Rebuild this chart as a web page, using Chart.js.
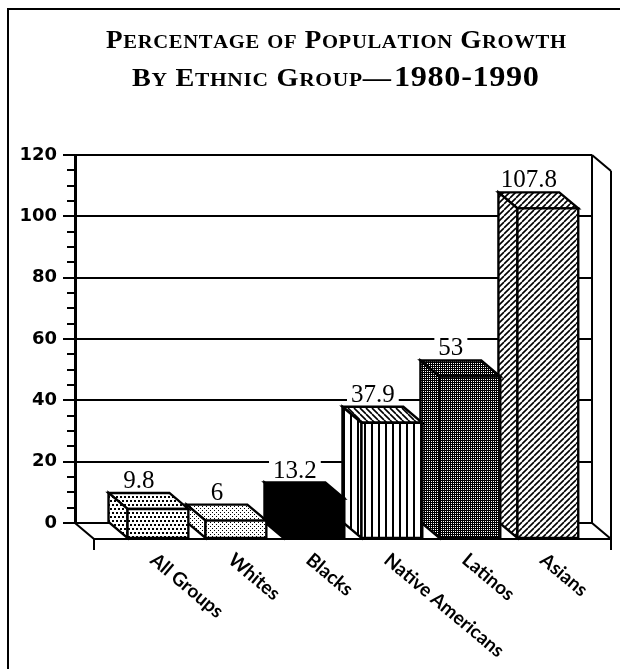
<!DOCTYPE html>
<html>
<head>
<meta charset="utf-8">
<script src="https://cdn.jsdelivr.net/npm/chart.js@4.4.0/dist/chart.umd.min.js"></script>
<style>
  html, body { margin: 0; padding: 0; background: #fff; }
  canvas { display: block; }
</style>
</head>
<body>
<canvas id="chart" width="620" height="669"></canvas>
<script>
// Values
const groups = ['All Groups', 'Whites', 'Blacks', 'Native Americans', 'Latinos', 'Asians'];
const growth = [9.8, 6, 13.2, 37.9, 53, 107.8];
const valueLabels = ['9.8', '6', '13.2', '37.9', '53', '107.8'];
const yMin = 0;
const yMax = 120;
const yStep = 20;
const yMinorStep = 5;
const titleLine1 = 'Percentage of Population Growth';
const titleLine2a = 'By Ethnic Group\u2014';
const titleLine2b = '1980-1990';

// 3D depth of the front plane
const DX = 19;
const DY = 16;

const canvas = document.getElementById('chart');
const ctx0 = canvas.getContext('2d');

// small tile patterns like the old print shading
function makePattern(w, h, bg, drawTile) {
    const c = document.createElement('canvas');
    c.width = w;
    c.height = h;
    const g = c.getContext('2d');
    g.fillStyle = bg;
    g.fillRect(0, 0, w, h);
    drawTile(g);
    return ctx0.createPattern(c, 'repeat');
}

const dotsCoarse = makePattern(8, 8, '#fff', g => {
    g.fillStyle = '#000';
    [[0, 0], [4, 0], [2, 4], [6, 4]].forEach(p => g.fillRect(p[0], p[1], 2, 2));
});
const dotsFine = makePattern(4, 4, '#fff', g => {
    g.fillStyle = '#000';
    [[0, 0], [2, 2]].forEach(p => g.fillRect(p[0], p[1], 1, 1));
});
const dotsDense = makePattern(4, 4, '#000', g => {
    g.fillStyle = '#fff';
    [[1, 1], [3, 3], [1, 3], [3, 1]].forEach(p => g.fillRect(p[0], p[1], 1, 1));
});
const vStripes = makePattern(7, 2, '#fff', g => {
    g.fillStyle = '#000';
    g.fillRect(0, 0, 2, 2);
});
function diagonal(forward) {
    return makePattern(6, 6, '#fff', g => {
        g.strokeStyle = '#000';
        g.lineWidth = 1.6;
        g.beginPath();
        for (let k = -1; k <= 1; k++) {
            if (forward) {
                g.moveTo(k * 6, 6);
                g.lineTo(k * 6 + 6, 0);
            } else {
                g.moveTo(k * 6, 0);
                g.lineTo(k * 6 + 6, 6);
            }
        }
        g.stroke();
    });
}
const diagFwd = diagonal(true);
const diagBack = diagonal(false);

const faceStyles = [
    { front: dotsCoarse, top: dotsCoarse, side: dotsCoarse },
    { front: dotsFine, top: dotsFine, side: dotsFine },
    { front: '#000', top: '#000', side: '#000' },
    { front: vStripes, top: diagBack, side: vStripes },
    { front: dotsDense, top: dotsDense, side: dotsDense },
    { front: diagFwd, top: diagFwd, side: diagFwd }
];

function poly(ctx, pts, fill) {
    ctx.beginPath();
    ctx.moveTo(pts[0][0], pts[0][1]);
    for (let i = 1; i < pts.length; i++) ctx.lineTo(pts[i][0], pts[i][1]);
    ctx.closePath();
    ctx.fillStyle = fill;
    ctx.fill();
    ctx.stroke();
}

function line(ctx, x1, y1, x2, y2) {
    ctx.beginPath();
    ctx.moveTo(x1, y1);
    ctx.lineTo(x2, y2);
    ctx.stroke();
}

// small caps by hand: lowercase letters become smaller capitals,
// the run is widened to the span it has in the print
function drawCaps(ctx, text, x, y, width, fullFont, smallFont) {
    const glyphs = [...text].map(ch => {
        const small = ch !== ch.toUpperCase();
        ctx.font = small ? smallFont : fullFont;
        const t = ch.toUpperCase();
        return { t, font: ctx.font, w: ctx.measureText(t).width };
    });
    const gap = 0.6;
    const natural = glyphs.reduce((s, g) => s + g.w, 0) + gap * (glyphs.length - 1);
    ctx.save();
    ctx.translate(x, y);
    ctx.scale(width / natural, 1);
    let cx = 0;
    glyphs.forEach(g => {
        ctx.font = g.font;
        ctx.fillText(g.t, cx, 0);
        cx += g.w + gap;
    });
    ctx.restore();
}

// page frame, floor and side wall
const framePlugin = {
    id: 'frame',
    beforeDraw(chart) {
        const ctx = chart.ctx;
        ctx.save();
        ctx.fillStyle = '#fff';
        ctx.fillRect(0, 0, chart.width, chart.height);
        ctx.strokeStyle = '#000';
        ctx.lineWidth = 2;
        ctx.beginPath();
        ctx.moveTo(8, chart.height);
        ctx.lineTo(8, 9);
        ctx.lineTo(chart.width, 9);
        ctx.stroke();
        ctx.restore();
    },
    beforeDatasetsDraw(chart) {
        const ctx = chart.ctx;
        const { left, right, top, bottom } = chart.chartArea;
        const ys = chart.scales.y;
        ctx.save();
        ctx.strokeStyle = '#000';
        ctx.lineWidth = 2;
        // minor ticks
        for (let v = yMin; v <= yMax; v += yMinorStep) {
            if (v % yStep === 0) continue;
            const y = Math.round(ys.getPixelForValue(v));
            line(ctx, left - 8, y, left, y);
        }
        // side wall
        line(ctx, right, top, right, bottom);
        line(ctx, right, top, right + DX, top + DY);
        line(ctx, right + DX, top + DY, right + DX, bottom + DY + 11);
        // floor
        line(ctx, left, bottom, left + DX, bottom + DY);
        line(ctx, left + DX, bottom + DY, right + DX, bottom + DY);
        line(ctx, right, bottom, right + DX, bottom + DY);
        line(ctx, left + DX, bottom + DY, left + DX, bottom + DY + 11);
        ctx.restore();
    }
};

// 3D bars built on the bar elements Chart.js lays out
const bars3dPlugin = {
    id: 'bars3d',
    afterDatasetsDraw(chart) {
        const ctx = chart.ctx;
        const meta = chart.getDatasetMeta(0);
        ctx.save();
        ctx.strokeStyle = '#000';
        ctx.lineWidth = 2.4;
        ctx.lineJoin = 'miter';
        for (let i = meta.data.length - 1; i >= 0; i--) {
            const el = meta.data[i];
            const { x, y, base, width } = el.getProps(['x', 'y', 'base', 'width'], true);
            const l = x - width / 2;
            const r = x + width / 2;
            const st = faceStyles[i];
            poly(ctx, [[l, y], [r, y], [r + DX, y + DY], [l + DX, y + DY]], st.top);
            poly(ctx, [[l, y], [l + DX, y + DY], [l + DX, base + DY], [l, base]], st.side);
            poly(ctx, [[l + DX, y + DY], [r + DX, y + DY], [r + DX, base + DY], [l + DX, base + DY]], st.front);
        }
        // value labels knocked out of the grid
        ctx.font = '25px "Liberation Serif"';
        ctx.textAlign = 'center';
        ctx.textBaseline = 'alphabetic';
        meta.data.forEach((el, i) => {
            const { x, y } = el.getProps(['x', 'y'], true);
            const t = valueLabels[i];
            const w = ctx.measureText(t).width;
            const by = y - 5;
            ctx.fillStyle = '#fff';
            ctx.fillRect(x - w / 2 - 4, by - 19, w + 8, 21);
            ctx.fillStyle = '#000';
            ctx.fillText(t, x, by);
        });
        ctx.restore();
    },
    afterDraw(chart) {
        const ctx = chart.ctx;
        const xs = chart.scales.x;
        const { bottom } = chart.chartArea;
        ctx.save();
        ctx.fillStyle = '#000';
        // category labels, slanted downwards
        ctx.font = 'bold 19px Lato';
        ctx.textAlign = 'left';
        ctx.textBaseline = 'top';
        groups.forEach((g, i) => {
            ctx.save();
            ctx.translate(xs.getPixelForValue(i) + 20, bottom + 27);
            ctx.rotate(40 * Math.PI / 180);
            ctx.fillText(g, 0, 0);
            ctx.restore();
        });

        // title
        ctx.textBaseline = 'alphabetic';
        ctx.textAlign = 'left';
        const full = 'bold 25px "Liberation Serif"';
        const small = 'bold 19px "Liberation Serif"';
        drawCaps(ctx, titleLine1, 106, 48, 460, full, small);
        drawCaps(ctx, titleLine2a, 132, 86, 259, full, small);
        const digits = 'bold 30px "Liberation Serif"';
        drawCaps(ctx, titleLine2b, 394, 86, 145, digits, digits);
        ctx.restore();
    }
};

new Chart(canvas, {
    type: 'bar',
    data: {
        datasets: [{
            data: growth.map((v, i) => ({ x: i, y: v })),
            backgroundColor: 'rgba(0,0,0,0)',
            borderWidth: 0,
            barPercentage: 0.78,
            categoryPercentage: 1
        }]
    },
    options: {
        responsive: false,
        animation: false,
        layout: { padding: { top: 155, right: 28, bottom: 146, left: 0 } },
        plugins: {
            legend: { display: false },
            title: { display: false },
            tooltip: { enabled: false }
        },
        scales: {
            x: {
                type: 'linear',
                display: false,
                offset: false,
                min: -0.82,
                max: 5.81,
                ticks: { stepSize: 1, includeBounds: false }
            },
            y: {
                min: yMin,
                max: yMax,
                afterFit(scale) { scale.width = 75; },
                ticks: {
                    stepSize: yStep,
                    color: '#000',
                    padding: 6,
                    font: { family: '"DejaVu Sans"', size: 18, weight: 'bold' }
                },
                grid: {
                    color: '#000',
                    lineWidth: 2,
                    tickLength: 12,
                    tickWidth: 2,
                    tickColor: '#000'
                },
                border: { color: '#000', width: 3 }
            }
        }
    },
    plugins: [framePlugin, bars3dPlugin]
});
</script>
</body>
</html>
